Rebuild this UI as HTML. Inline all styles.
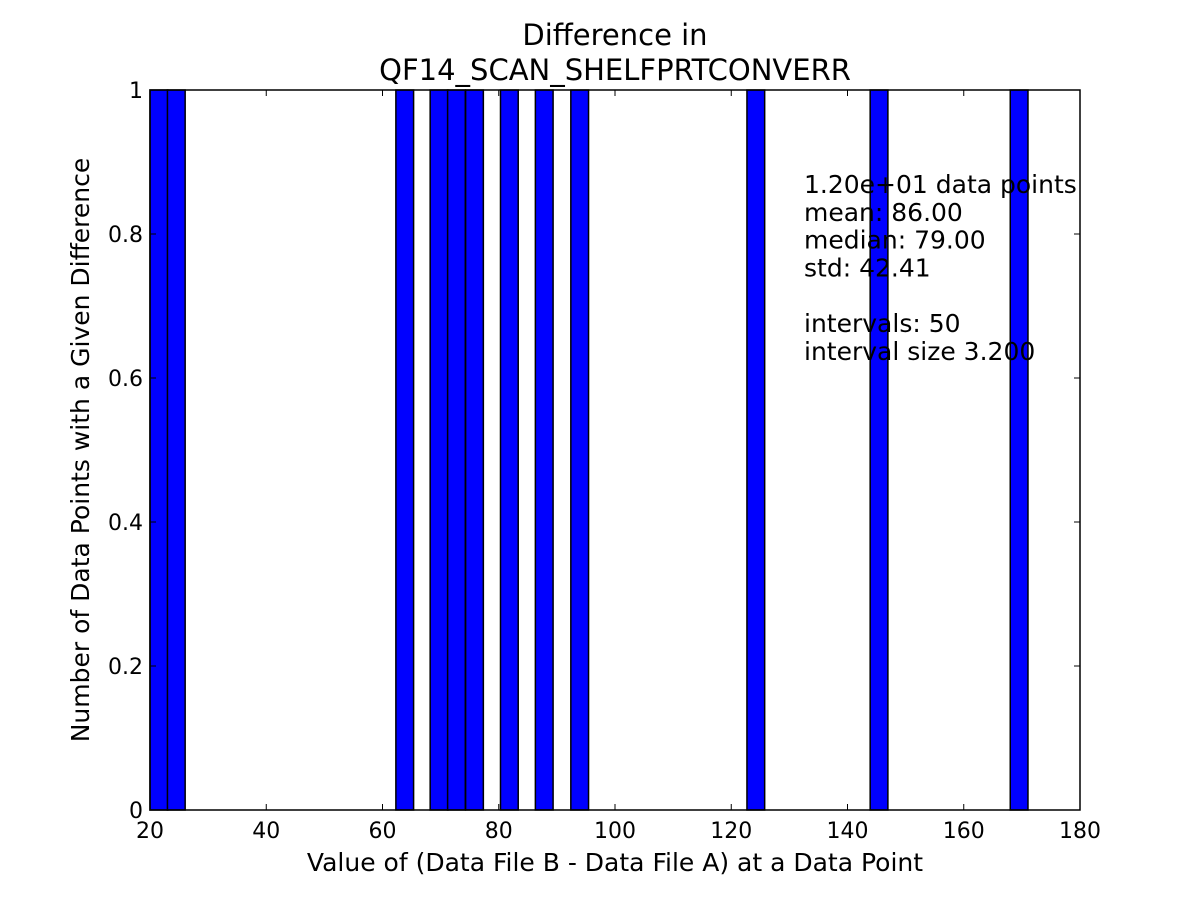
<!DOCTYPE html>
<html><head><meta charset="utf-8"><style>body{margin:0;background:#fff}svg text{font-family:"DejaVu Sans","Liberation Sans",sans-serif}</style></head>
<body>
<svg id="c" width="1200" height="900" xmlns="http://www.w3.org/2000/svg"></svg>
<script>
const binStarts=[20,23.0,62.3,68.2,71.2,74.3,80.3,86.3,92.4,122.7,143.9,168.0];
const counts=[1,1,1,1,1,1,1,1,1,1,1,1];
const binWidth=3.05;
const xTicks=[20,40,60,80,100,120,140,160,180];
const yTicks=[0,0.2,0.4,0.6,0.8,1];
const yTickLabels=["0","0.2","0.4","0.6","0.8","1"];
const statLines=["1.20e+01 data points","mean: 86.00","median: 79.00","std: 42.41","","intervals: 50","interval size 3.200"];
const L=150,R=1080,T=90,B=810;
const X=v=>L+(v-20)/160*(R-L);
const Y=v=>B-v/1*(B-T);
const s=document.getElementById('c');const NS="http://www.w3.org/2000/svg";
function mk(t,a,txt){const e=document.createElementNS(NS,t);for(const k in a)e.setAttribute(k,a[k]);if(txt!==undefined)e.textContent=txt;s.appendChild(e);return e;}
binStarts.forEach((b,i)=>{const r=mk('rect',{x:X(b),y:Y(counts[i]),width:X(b+binWidth)-X(b),height:Y(0)-Y(counts[i]),fill:'#0000ff',stroke:'#000','stroke-width':1.5});

});
const f=mk('rect',{x:L,y:T,width:R-L,height:B-T,fill:'none',stroke:'#000','stroke-width':1.5});

xTicks.forEach(v=>{const x=X(v);mk('line',{x1:x,x2:x,y1:B,y2:B-6,stroke:'#000'});mk('line',{x1:x,x2:x,y1:T,y2:T+6,stroke:'#000'});
const t=mk('text',{x:x,y:B+28,'text-anchor':'middle','font-size':22},String(v));});
yTicks.forEach((v,i)=>{const y=Y(v);mk('line',{x1:L,x2:L+6,y1:y,y2:y,stroke:'#000'});mk('line',{x1:R,x2:R-6,y1:y,y2:y,stroke:'#000'});
const t=mk('text',{x:L-7,y:y+8,'text-anchor':'end','font-size':22},yTickLabels[i]);});
let t=mk('text',{x:615,y:45,'text-anchor':'middle','font-size':29},'Difference in');
t=mk('text',{x:615,y:80,'text-anchor':'middle','font-size':29},'QF14_SCAN_SHELFPRTCONVERR');
t=mk('text',{x:615,y:871,'text-anchor':'middle','font-size':25},'Value of (Data File B - Data File A) at a Data Point');
t=mk('text',{x:89,y:450,'text-anchor':'middle','font-size':25,transform:'rotate(-90 89 450)'},'Number of Data Points with a Given Difference');
statLines.forEach((l,i)=>{if(!l)return;const e=mk('text',{x:804,y:193+i*27.8,'font-size':25},l);});
</script>
</body></html>
